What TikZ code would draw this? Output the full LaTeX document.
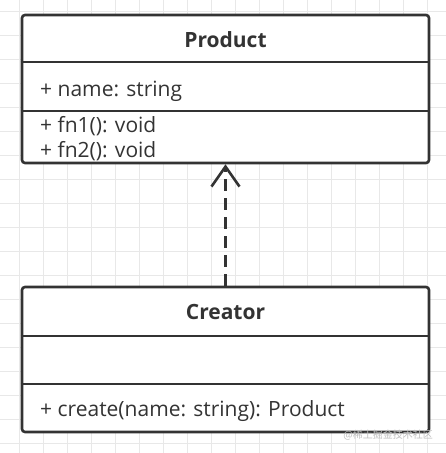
\documentclass[tikz,border=0pt]{standalone}
\usepackage{fontspec}
\setmainfont{Open Sans}
\newfontfamily\cjk{Noto Sans CJK SC}
\usetikzlibrary{arrows.meta}
\definecolor{ink}{HTML}{333333}
\definecolor{gridc}{HTML}{E8E8E8}
\begin{document}
\begin{tikzpicture}[x=1pt,y=-1pt,
  classbox/.style={draw=ink,line width=2.6pt,rounded corners=3pt,fill=white,inner sep=0pt},
  divider/.style={draw=ink,line width=2.6pt},
  title/.style={font=\fontsize{21}{24}\selectfont\bfseries,text=ink,anchor=center,inner sep=0pt},
  member/.style={font=\fontsize{21}{24}\selectfont,text=ink,anchor=base west,inner sep=0pt},
  dep/.style={draw=ink,line width=2.6pt,dash pattern=on 12pt off 7pt,-{Straight Barb[length=20pt,width=28pt,line width=2.6pt]}}]
\useasboundingbox (0,0) rectangle (446,453);
\fill[white] (0,0) rectangle (446,453);
\foreach \x in {19,43,...,446} \draw[gridc,line width=0.8pt] (\x,0) -- (\x,453);
\foreach \y in {11,35,...,453} \draw[gridc,line width=0.8pt] (0,\y) -- (446,\y);
% Product
\node[classbox,minimum width=407pt,minimum height=148pt] (product) at (225.5,89) {};
\draw[divider] (product.west |- 0,62) -- (product.east |- 0,62);
\draw[divider] (product.west |- 0,111) -- (product.east |- 0,111);
\node[title] (ptitle) at (225.5,40) {Product};
\node[member] (pattr) at (40,96) {+ name: string};
\node[member] (pfn1) at (40,132) {+ fn1(): void};
\node[member] (pfn2) at (40,157) {+ fn2(): void};
% Creator
\node[classbox,minimum width=407pt,minimum height=145pt] (creator) at (225.5,359.5) {};
\draw[divider] (creator.west |- 0,336) -- (creator.east |- 0,336);
\draw[divider] (creator.west |- 0,384) -- (creator.east |- 0,384);
\node[title] (ctitle) at (225.5,312) {Creator};
\node[member] (cop) at (40,416) {+ create(name: string): Product};
% dependency
\draw[dep] (creator.north) -- (product.south);
% watermark
\node[font=\cjk\fontsize{10}{12}\selectfont,text=black!25,anchor=east,inner sep=0pt] (wm) at (433,435) {@稀土掘金技术社区};
\end{tikzpicture}
\end{document}
